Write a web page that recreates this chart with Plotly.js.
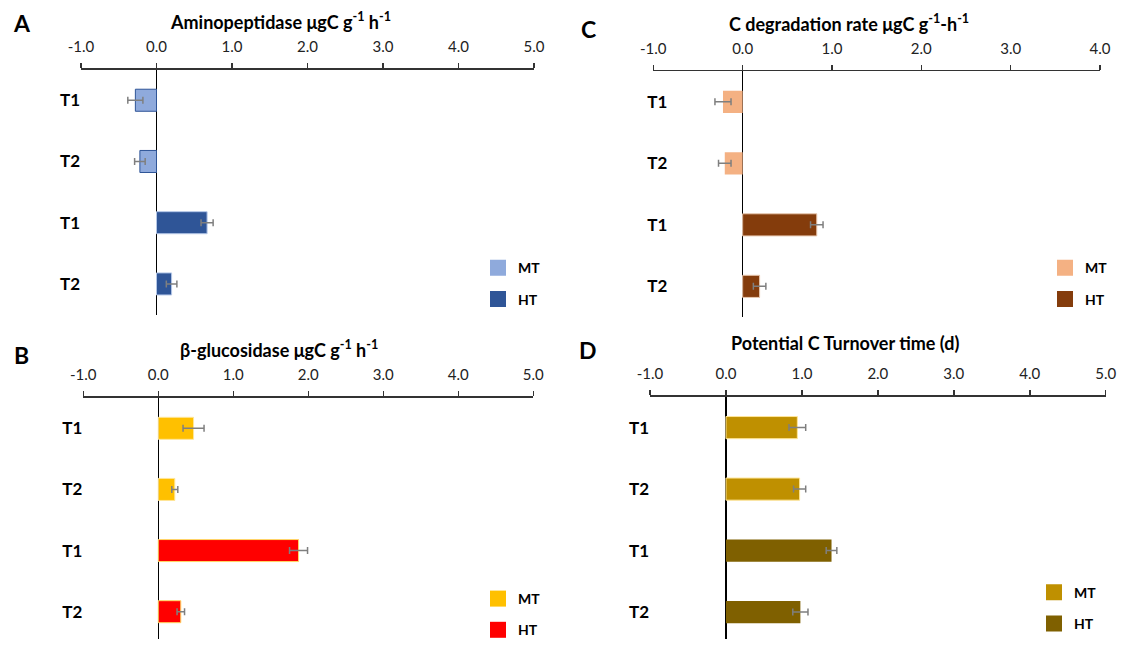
<!DOCTYPE html>
<html>
<head>
<meta charset="utf-8">
<script src="https://cdn.plot.ly/plotly-3.0.1.min.js"></script>
<style>
  html, body { margin: 0; padding: 0; background: #fff; }
  #chart { width: 1123px; height: 646px; }
</style>
</head>
<body>
<div id="chart"></div>
<script>
// Row labels (top to bottom) and series names
const rowLabels = ['T1', 'T2', 'T1', 'T2'];
const seriesNames = ['MT', 'HT'];

// A: Aminopeptidase (µgC g-1 h-1)
const aminoMT = [-0.28, -0.22];
const aminoMTErr = [0.10, 0.07];
const aminoHT = [0.67, 0.20];
const aminoHTErr = [0.08, 0.07];

// B: beta-glucosidase (µgC g-1 h-1)
const glucoMT = [0.47, 0.22];
const glucoMTErr = [0.14, 0.04];
const glucoHT = [1.87, 0.30];
const glucoHTErr = [0.12, 0.05];

// C: C degradation rate (µgC g-1 h-1)
const cdegMT = [-0.22, -0.20];
const cdegMTErr = [0.09, 0.07];
const cdegHT = [0.83, 0.19];
const cdegHTErr = [0.07, 0.07];

// D: potential C turnover time (d)
const turnMT = [0.94, 0.97];
const turnMTErr = [0.11, 0.08];
const turnHT = [1.39, 0.98];
const turnHTErr = [0.07, 0.10];

// Axis ticks
const ticksToFive = [-1, 0, 1, 2, 3, 4, 5];
const ticksToFour = [-1, 0, 1, 2, 3, 4];

// ---------------------------------------------------------------
const W = 1123, H = 646;
const px = v => v / W;          // horizontal pixel -> paper
const py = v => 1 - v / H;      // vertical pixel -> paper
const FONT = 'Lato, "Open Sans", sans-serif';
const rowIdx = rowLabels.map((_, i) => i);
const mtRows = rowIdx.slice(0, 2);
const htRows = rowIdx.slice(2, 4);

const panels = [
  { letter: 'A', title: 'Aminopeptidase μgC g<sup>-1</sup> h<sup>-1</sup>',
    mt: aminoMT, mtErr: aminoMTErr, ht: aminoHT, htErr: aminoHTErr, ticks: ticksToFive,
    colors: ['#8FAADC', '#2F5597'], lines: ['#2F5597', '#B4C7E7'], lineW: [1, 1],
    left: 81, right: 534, top: 70.4, bottom: 318, step: 61.9, ystand: 0,
    letterPos: [21.5, 23], titlePos: [280, 21], legendPos: [478, 255] },
  { letter: 'B', title: 'β-glucosidase μgC g<sup>-1</sup> h<sup>-1</sup>',
    mt: glucoMT, mtErr: glucoMTErr, ht: glucoHT, htErr: glucoHTErr, ticks: ticksToFive,
    colors: ['#FFC000', '#FF0000'], lines: ['#FFE699', '#FFD966'], lineW: [1, 1],
    left: 83.3, right: 533.3, top: 402.1, bottom: 646, step: 61.8, ystand: 0,
    letterPos: [21, 358.5], titlePos: [279, 353], legendPos: [478, 589.5] },
  { letter: 'C', title: 'C degradation rate μgC g<sup>-1</sup>-h<sup>-1</sup>',
    mt: cdegMT, mtErr: cdegMTErr, ht: cdegHT, htErr: cdegHTErr, ticks: ticksToFour,
    colors: ['#F4B183', '#843C0C'], lines: ['#F4B183', '#E8C8B0'], lineW: [0, 1],
    left: 653.3, right: 1100, top: 71.9, bottom: 320.6, step: 62.17, ystand: -15,
    letterPos: [588.5, 29], titlePos: [848.5, 23], legendPos: [1045, 255] },
  { letter: 'D', title: 'Potential C Turnover time (d)',
    mt: turnMT, mtErr: turnMTErr, ht: turnHT, htErr: turnHTErr, ticks: ticksToFive,
    colors: ['#BF9000', '#7F6000'], lines: ['#FFE699', '#7F6000'], lineW: [1, 0],
    left: 650, right: 1105.7, top: 401.2, bottom: 646, step: 62.17, ystand: 0,
    letterPos: [587.5, 353.5], titlePos: [844.5, 347], legendPos: [1034, 583] }
];

const data = [];
const layout = {
  width: W, height: H,
  margin: { l: 0, r: 0, t: 0, b: 0 },
  paper_bgcolor: '#ffffff', plot_bgcolor: 'rgba(0,0,0,0)',
  barmode: 'overlay',
  showlegend: true,
  hovermode: false,
  font: { family: FONT, color: '#000' },
  annotations: []
};

panels.forEach((p, k) => {
  const n = k + 1;
  const xa = 'x' + (n === 1 ? '' : n), ya = 'y' + (n === 1 ? '' : n);
  const legendId = 'legend' + (n === 1 ? '' : n);
  const yMax = -0.5 + (p.bottom - p.top) / p.step;

  const tickStyle = { tickcolor: '#333', tickwidth: 1.5, ticklen: 5 };
  layout['xaxis' + (n === 1 ? '' : n)] = Object.assign({
    anchor: ya, side: 'top', domain: [px(p.left), px(p.right)],
    range: [p.ticks[0], p.ticks[p.ticks.length - 1]],
    tickvals: p.ticks, ticktext: p.ticks.map(v => v.toFixed(1)),
    ticks: 'outside', showline: true, linecolor: '#333', linewidth: 1.5,
    zeroline: true, zerolinecolor: '#000', zerolinewidth: 1.5, showgrid: false,
    tickfont: { family: FONT, size: 15, color: '#222' }, ticklabelstandoff: 5,
    fixedrange: true
  }, tickStyle);
  // companion axis that draws the lower half of the crossing tick marks
  layout['xaxis' + (n + 4)] = Object.assign({
    overlaying: xa, anchor: ya, side: 'top',
    range: [p.ticks[0], p.ticks[p.ticks.length - 1]],
    tickvals: p.ticks, ticks: 'inside', showticklabels: false,
    showline: false, zeroline: false, showgrid: false, fixedrange: true
  }, tickStyle);
  layout['yaxis' + (n === 1 ? '' : n)] = {
    anchor: xa, domain: [py(p.bottom), py(p.top)],
    range: [yMax, -0.5], tickvals: rowIdx, ticktext: rowLabels,
    ticks: '', showline: false, zeroline: false, showgrid: false,
    tickfont: { family: FONT, size: 17, color: '#000', weight: 'bold' },
    ticklabelstandoff: p.ystand, fixedrange: true
  };

  const series = [[p.mt, p.mtErr, mtRows], [p.ht, p.htErr, htRows]];
  series.forEach(([vals, errs, rows], s) => {
    data.push({
      type: 'bar', orientation: 'h', x: vals, y: rows, width: 0.36,
      xaxis: xa, yaxis: ya, showlegend: false, hoverinfo: 'skip',
      marker: { color: p.colors[s], line: { color: p.lines[s], width: p.lineW[s] } },
      error_x: { type: 'data', array: errs, visible: true, color: '#7F7F7F', thickness: 1.5, width: 3.5 }
    });
  });
  // legend keys
  seriesNames.forEach((name, s) => {
    data.push({
      type: 'scatter', mode: 'markers', x: [null], y: [null], name: name,
      xaxis: xa, yaxis: ya, legend: legendId, legendgroup: p.letter + name,
      marker: { symbol: 'square', size: 16, color: p.colors[s] }, hoverinfo: 'skip'
    });
  });
  layout[legendId] = {
    x: px(p.legendPos[0]), y: py(p.legendPos[1]), xanchor: 'left', yanchor: 'top',
    bgcolor: 'rgba(0,0,0,0)', borderwidth: 0, tracegroupgap: 10,
    font: { family: FONT, size: 14, color: '#000', weight: 'bold' },
    itemclick: false, itemdoubleclick: false
  };

  layout.annotations.push({
    xref: 'paper', yref: 'paper', x: px(p.titlePos[0]), y: py(p.titlePos[1]),
    xanchor: 'center', yanchor: 'middle', showarrow: false, text: '<b>' + p.title + '</b>',
    font: { family: FONT, size: 18, color: '#000' }
  });
  layout.annotations.push({
    xref: 'paper', yref: 'paper', x: px(p.letterPos[0]), y: py(p.letterPos[1]),
    xanchor: 'center', yanchor: 'middle', showarrow: false, text: '<b>' + p.letter + '</b>',
    font: { family: FONT, size: 23, color: '#000' }
  });
});

Plotly.newPlot('chart', data, layout, { displayModeBar: false, staticPlot: true });
</script>
</body>
</html>
